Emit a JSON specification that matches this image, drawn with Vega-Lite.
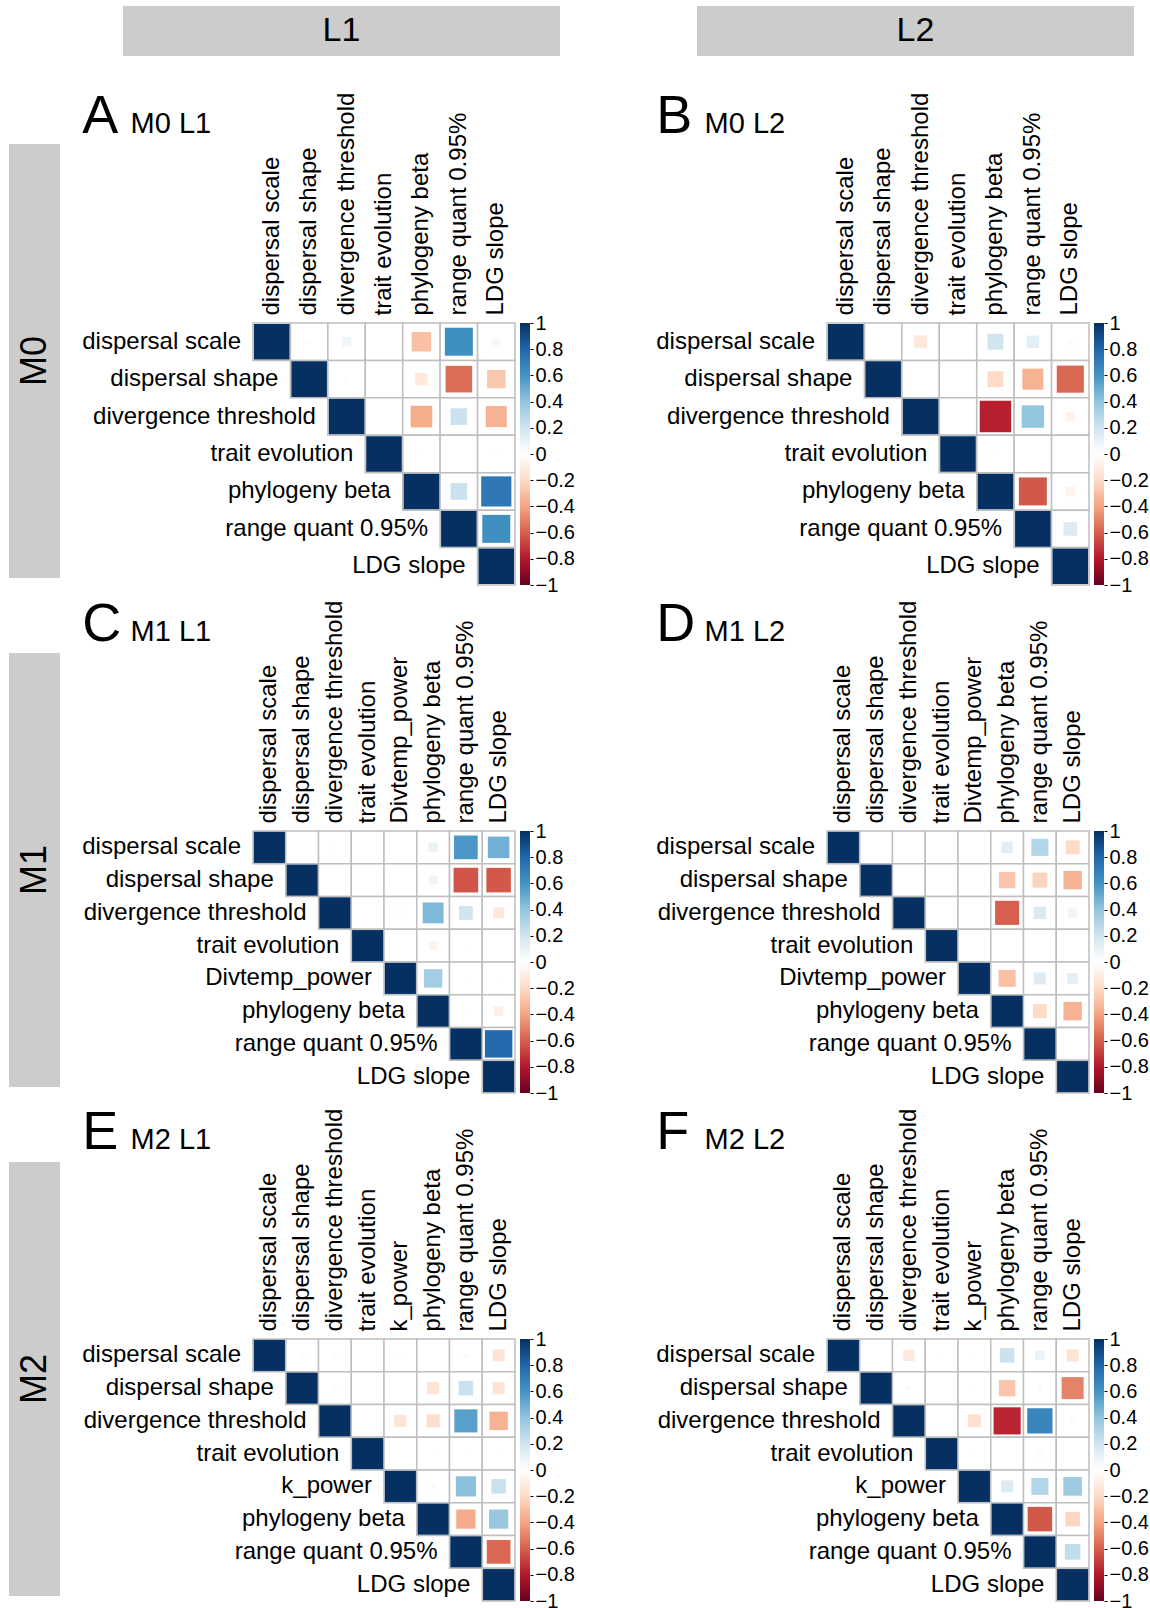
{
  "$schema": "https://vega.github.io/schema/vega-lite/v6.json",
  "background": "white",
  "padding": {"left": 9, "top": 6, "right": 0, "bottom": 0},
  "config": {
    "view": {"stroke": null},
    "font": "Liberation Sans",
    "axis": {"labelFont": "Liberation Sans", "labelColor": "#000"},
    "title": {"font": "Liberation Sans", "color": "#000", "fontWeight": "normal", "subtitleFont": "Liberation Sans", "subtitleColor": "#000"}
  },
  "datasets": {
    "cb": [{"lo": -1, "hi": 1}],
    "n7": [{"v": "dispersal scale"}, {"v": "dispersal shape"}, {"v": "divergence threshold"}, {"v": "trait evolution"}, {"v": "phylogeny beta"}, {"v": "range quant 0.95%"}, {"v": "LDG slope"}],
    "n8a": [{"v": "dispersal scale"}, {"v": "dispersal shape"}, {"v": "divergence threshold"}, {"v": "trait evolution"}, {"v": "Divtemp_power"}, {"v": "phylogeny beta"}, {"v": "range quant 0.95%"}, {"v": "LDG slope"}],
    "n8b": [{"v": "dispersal scale"}, {"v": "dispersal shape"}, {"v": "divergence threshold"}, {"v": "trait evolution"}, {"v": "k_power"}, {"v": "phylogeny beta"}, {"v": "range quant 0.95%"}, {"v": "LDG slope"}],
    "pA": [
      {"a": "dispersal scale", "b": "dispersal scale", "r": 1}, {"a": "dispersal scale", "b": "dispersal shape", "r": 0.02}, {"a": "dispersal scale", "b": "divergence threshold", "r": 0.07}, {"a": "dispersal scale", "b": "trait evolution", "r": 0}, {"a": "dispersal scale", "b": "phylogeny beta", "r": -0.3}, {"a": "dispersal scale", "b": "range quant 0.95%", "r": 0.62}, {"a": "dispersal scale", "b": "LDG slope", "r": 0.05},
      {"a": "dispersal shape", "b": "dispersal shape", "r": 1}, {"a": "dispersal shape", "b": "divergence threshold", "r": -0.02}, {"a": "dispersal shape", "b": "trait evolution", "r": 0}, {"a": "dispersal shape", "b": "phylogeny beta", "r": -0.12}, {"a": "dispersal shape", "b": "range quant 0.95%", "r": -0.56}, {"a": "dispersal shape", "b": "LDG slope", "r": -0.27},
      {"a": "divergence threshold", "b": "divergence threshold", "r": 1}, {"a": "divergence threshold", "b": "trait evolution", "r": 0}, {"a": "divergence threshold", "b": "phylogeny beta", "r": -0.37}, {"a": "divergence threshold", "b": "range quant 0.95%", "r": 0.22}, {"a": "divergence threshold", "b": "LDG slope", "r": -0.35},
      {"a": "trait evolution", "b": "trait evolution", "r": 1}, {"a": "trait evolution", "b": "phylogeny beta", "r": 0.01}, {"a": "trait evolution", "b": "range quant 0.95%", "r": 0}, {"a": "trait evolution", "b": "LDG slope", "r": 0.01},
      {"a": "phylogeny beta", "b": "phylogeny beta", "r": 1}, {"a": "phylogeny beta", "b": "range quant 0.95%", "r": 0.22}, {"a": "phylogeny beta", "b": "LDG slope", "r": 0.72},
      {"a": "range quant 0.95%", "b": "range quant 0.95%", "r": 1}, {"a": "range quant 0.95%", "b": "LDG slope", "r": 0.62},
      {"a": "LDG slope", "b": "LDG slope", "r": 1}
    ],
    "pB": [
      {"a": "dispersal scale", "b": "dispersal scale", "r": 1}, {"a": "dispersal scale", "b": "dispersal shape", "r": 0}, {"a": "dispersal scale", "b": "divergence threshold", "r": -0.13}, {"a": "dispersal scale", "b": "trait evolution", "r": 0}, {"a": "dispersal scale", "b": "phylogeny beta", "r": 0.2}, {"a": "dispersal scale", "b": "range quant 0.95%", "r": 0.12}, {"a": "dispersal scale", "b": "LDG slope", "r": -0.03},
      {"a": "dispersal shape", "b": "dispersal shape", "r": 1}, {"a": "dispersal shape", "b": "divergence threshold", "r": 0}, {"a": "dispersal shape", "b": "trait evolution", "r": 0}, {"a": "dispersal shape", "b": "phylogeny beta", "r": -0.2}, {"a": "dispersal shape", "b": "range quant 0.95%", "r": -0.35}, {"a": "dispersal shape", "b": "LDG slope", "r": -0.58},
      {"a": "divergence threshold", "b": "divergence threshold", "r": 1}, {"a": "divergence threshold", "b": "trait evolution", "r": 0}, {"a": "divergence threshold", "b": "phylogeny beta", "r": -0.78}, {"a": "divergence threshold", "b": "range quant 0.95%", "r": 0.4}, {"a": "divergence threshold", "b": "LDG slope", "r": -0.07},
      {"a": "trait evolution", "b": "trait evolution", "r": 1}, {"a": "trait evolution", "b": "phylogeny beta", "r": 0.01}, {"a": "trait evolution", "b": "range quant 0.95%", "r": 0}, {"a": "trait evolution", "b": "LDG slope", "r": 0},
      {"a": "phylogeny beta", "b": "phylogeny beta", "r": 1}, {"a": "phylogeny beta", "b": "range quant 0.95%", "r": -0.62}, {"a": "phylogeny beta", "b": "LDG slope", "r": -0.07},
      {"a": "range quant 0.95%", "b": "range quant 0.95%", "r": 1}, {"a": "range quant 0.95%", "b": "LDG slope", "r": 0.15},
      {"a": "LDG slope", "b": "LDG slope", "r": 1}
    ],
    "pC": [
      {"a": "dispersal scale", "b": "dispersal scale", "r": 1}, {"a": "dispersal scale", "b": "dispersal shape", "r": 0}, {"a": "dispersal scale", "b": "divergence threshold", "r": 0.01}, {"a": "dispersal scale", "b": "trait evolution", "r": 0}, {"a": "dispersal scale", "b": "Divtemp_power", "r": 0}, {"a": "dispersal scale", "b": "phylogeny beta", "r": 0.09}, {"a": "dispersal scale", "b": "range quant 0.95%", "r": 0.58}, {"a": "dispersal scale", "b": "LDG slope", "r": 0.48},
      {"a": "dispersal shape", "b": "dispersal shape", "r": 1}, {"a": "dispersal shape", "b": "divergence threshold", "r": 0}, {"a": "dispersal shape", "b": "trait evolution", "r": 0}, {"a": "dispersal shape", "b": "Divtemp_power", "r": 0}, {"a": "dispersal shape", "b": "phylogeny beta", "r": 0.08}, {"a": "dispersal shape", "b": "range quant 0.95%", "r": -0.63}, {"a": "dispersal shape", "b": "LDG slope", "r": -0.62},
      {"a": "divergence threshold", "b": "divergence threshold", "r": 1}, {"a": "divergence threshold", "b": "trait evolution", "r": 0}, {"a": "divergence threshold", "b": "Divtemp_power", "r": 0.01}, {"a": "divergence threshold", "b": "phylogeny beta", "r": 0.45}, {"a": "divergence threshold", "b": "range quant 0.95%", "r": 0.2}, {"a": "divergence threshold", "b": "LDG slope", "r": -0.13},
      {"a": "trait evolution", "b": "trait evolution", "r": 1}, {"a": "trait evolution", "b": "Divtemp_power", "r": 0}, {"a": "trait evolution", "b": "phylogeny beta", "r": -0.07}, {"a": "trait evolution", "b": "range quant 0.95%", "r": 0.01}, {"a": "trait evolution", "b": "LDG slope", "r": 0},
      {"a": "Divtemp_power", "b": "Divtemp_power", "r": 1}, {"a": "Divtemp_power", "b": "phylogeny beta", "r": 0.35}, {"a": "Divtemp_power", "b": "range quant 0.95%", "r": 0.01}, {"a": "Divtemp_power", "b": "LDG slope", "r": 0.01},
      {"a": "phylogeny beta", "b": "phylogeny beta", "r": 1}, {"a": "phylogeny beta", "b": "range quant 0.95%", "r": 0.01}, {"a": "phylogeny beta", "b": "LDG slope", "r": -0.09},
      {"a": "range quant 0.95%", "b": "range quant 0.95%", "r": 1}, {"a": "range quant 0.95%", "b": "LDG slope", "r": 0.78},
      {"a": "LDG slope", "b": "LDG slope", "r": 1}
    ],
    "pD": [
      {"a": "dispersal scale", "b": "dispersal scale", "r": 1}, {"a": "dispersal scale", "b": "dispersal shape", "r": 0}, {"a": "dispersal scale", "b": "divergence threshold", "r": 0}, {"a": "dispersal scale", "b": "trait evolution", "r": 0}, {"a": "dispersal scale", "b": "Divtemp_power", "r": 0}, {"a": "dispersal scale", "b": "phylogeny beta", "r": 0.13}, {"a": "dispersal scale", "b": "range quant 0.95%", "r": 0.3}, {"a": "dispersal scale", "b": "LDG slope", "r": -0.2},
      {"a": "dispersal shape", "b": "dispersal shape", "r": 1}, {"a": "dispersal shape", "b": "divergence threshold", "r": 0}, {"a": "dispersal shape", "b": "trait evolution", "r": 0}, {"a": "dispersal shape", "b": "Divtemp_power", "r": 0}, {"a": "dispersal shape", "b": "phylogeny beta", "r": -0.28}, {"a": "dispersal shape", "b": "range quant 0.95%", "r": -0.23}, {"a": "dispersal shape", "b": "LDG slope", "r": -0.35},
      {"a": "divergence threshold", "b": "divergence threshold", "r": 1}, {"a": "divergence threshold", "b": "trait evolution", "r": 0}, {"a": "divergence threshold", "b": "Divtemp_power", "r": 0}, {"a": "divergence threshold", "b": "phylogeny beta", "r": -0.6}, {"a": "divergence threshold", "b": "range quant 0.95%", "r": 0.16}, {"a": "divergence threshold", "b": "LDG slope", "r": 0.08},
      {"a": "trait evolution", "b": "trait evolution", "r": 1}, {"a": "trait evolution", "b": "Divtemp_power", "r": 0}, {"a": "trait evolution", "b": "phylogeny beta", "r": 0}, {"a": "trait evolution", "b": "range quant 0.95%", "r": 0}, {"a": "trait evolution", "b": "LDG slope", "r": 0},
      {"a": "Divtemp_power", "b": "Divtemp_power", "r": 1}, {"a": "Divtemp_power", "b": "phylogeny beta", "r": -0.3}, {"a": "Divtemp_power", "b": "range quant 0.95%", "r": 0.15}, {"a": "Divtemp_power", "b": "LDG slope", "r": 0.12},
      {"a": "phylogeny beta", "b": "phylogeny beta", "r": 1}, {"a": "phylogeny beta", "b": "range quant 0.95%", "r": -0.2}, {"a": "phylogeny beta", "b": "LDG slope", "r": -0.35},
      {"a": "range quant 0.95%", "b": "range quant 0.95%", "r": 1}, {"a": "range quant 0.95%", "b": "LDG slope", "r": 0},
      {"a": "LDG slope", "b": "LDG slope", "r": 1}
    ],
    "pE": [
      {"a": "dispersal scale", "b": "dispersal scale", "r": 1}, {"a": "dispersal scale", "b": "dispersal shape", "r": 0.02}, {"a": "dispersal scale", "b": "divergence threshold", "r": -0.03}, {"a": "dispersal scale", "b": "trait evolution", "r": 0}, {"a": "dispersal scale", "b": "k_power", "r": 0.01}, {"a": "dispersal scale", "b": "phylogeny beta", "r": 0}, {"a": "dispersal scale", "b": "range quant 0.95%", "r": 0.03}, {"a": "dispersal scale", "b": "LDG slope", "r": -0.15},
      {"a": "dispersal shape", "b": "dispersal shape", "r": 1}, {"a": "dispersal shape", "b": "divergence threshold", "r": -0.03}, {"a": "dispersal shape", "b": "trait evolution", "r": 0}, {"a": "dispersal shape", "b": "k_power", "r": 0}, {"a": "dispersal shape", "b": "phylogeny beta", "r": -0.15}, {"a": "dispersal shape", "b": "range quant 0.95%", "r": 0.22}, {"a": "dispersal shape", "b": "LDG slope", "r": -0.15},
      {"a": "divergence threshold", "b": "divergence threshold", "r": 1}, {"a": "divergence threshold", "b": "trait evolution", "r": 0}, {"a": "divergence threshold", "b": "k_power", "r": -0.15}, {"a": "divergence threshold", "b": "phylogeny beta", "r": -0.18}, {"a": "divergence threshold", "b": "range quant 0.95%", "r": 0.55}, {"a": "divergence threshold", "b": "LDG slope", "r": -0.35},
      {"a": "trait evolution", "b": "trait evolution", "r": 1}, {"a": "trait evolution", "b": "k_power", "r": 0}, {"a": "trait evolution", "b": "phylogeny beta", "r": 0.01}, {"a": "trait evolution", "b": "range quant 0.95%", "r": 0.01}, {"a": "trait evolution", "b": "LDG slope", "r": 0.01},
      {"a": "k_power", "b": "k_power", "r": 1}, {"a": "k_power", "b": "phylogeny beta", "r": 0.03}, {"a": "k_power", "b": "range quant 0.95%", "r": 0.42}, {"a": "k_power", "b": "LDG slope", "r": 0.22},
      {"a": "phylogeny beta", "b": "phylogeny beta", "r": 1}, {"a": "phylogeny beta", "b": "range quant 0.95%", "r": -0.38}, {"a": "phylogeny beta", "b": "LDG slope", "r": 0.38},
      {"a": "range quant 0.95%", "b": "range quant 0.95%", "r": 1}, {"a": "range quant 0.95%", "b": "LDG slope", "r": -0.58},
      {"a": "LDG slope", "b": "LDG slope", "r": 1}
    ],
    "pF": [
      {"a": "dispersal scale", "b": "dispersal scale", "r": 1}, {"a": "dispersal scale", "b": "dispersal shape", "r": 0}, {"a": "dispersal scale", "b": "divergence threshold", "r": -0.13}, {"a": "dispersal scale", "b": "trait evolution", "r": 0.01}, {"a": "dispersal scale", "b": "k_power", "r": 0.01}, {"a": "dispersal scale", "b": "phylogeny beta", "r": 0.22}, {"a": "dispersal scale", "b": "range quant 0.95%", "r": 0.09}, {"a": "dispersal scale", "b": "LDG slope", "r": -0.15},
      {"a": "dispersal shape", "b": "dispersal shape", "r": 1}, {"a": "dispersal shape", "b": "divergence threshold", "r": -0.03}, {"a": "dispersal shape", "b": "trait evolution", "r": 0}, {"a": "dispersal shape", "b": "k_power", "r": 0.01}, {"a": "dispersal shape", "b": "phylogeny beta", "r": -0.28}, {"a": "dispersal shape", "b": "range quant 0.95%", "r": 0.04}, {"a": "dispersal shape", "b": "LDG slope", "r": -0.5},
      {"a": "divergence threshold", "b": "divergence threshold", "r": 1}, {"a": "divergence threshold", "b": "trait evolution", "r": 0}, {"a": "divergence threshold", "b": "k_power", "r": -0.17}, {"a": "divergence threshold", "b": "phylogeny beta", "r": -0.76}, {"a": "divergence threshold", "b": "range quant 0.95%", "r": 0.66}, {"a": "divergence threshold", "b": "LDG slope", "r": 0.03},
      {"a": "trait evolution", "b": "trait evolution", "r": 1}, {"a": "trait evolution", "b": "k_power", "r": 0.01}, {"a": "trait evolution", "b": "phylogeny beta", "r": 0}, {"a": "trait evolution", "b": "range quant 0.95%", "r": -0.03}, {"a": "trait evolution", "b": "LDG slope", "r": 0},
      {"a": "k_power", "b": "k_power", "r": 1}, {"a": "k_power", "b": "phylogeny beta", "r": 0.15}, {"a": "k_power", "b": "range quant 0.95%", "r": 0.3}, {"a": "k_power", "b": "LDG slope", "r": 0.36},
      {"a": "phylogeny beta", "b": "phylogeny beta", "r": 1}, {"a": "phylogeny beta", "b": "range quant 0.95%", "r": -0.62}, {"a": "phylogeny beta", "b": "LDG slope", "r": -0.22},
      {"a": "range quant 0.95%", "b": "range quant 0.95%", "r": 1}, {"a": "range quant 0.95%", "b": "LDG slope", "r": 0.25},
      {"a": "LDG slope", "b": "LDG slope", "r": 1}
    ]
  },
  "spacing": 4,
  "resolve": {"scale": {"color": "independent", "size": "independent"}},
  "hconcat": [
    {
      "spacing": 75,
      "vconcat": [
        {"width": 51, "height": 63, "data": {"values": []}, "mark": {"type": "text"}, "encoding": {"text": {"value": ""}}},
        {"width": 51, "height": 434, "view": {"fill": "#cccccc", "stroke": null}, "data": {"values": [{"t": "M0"}]}, "mark": {"type": "text", "angle": 270, "fontSize": 36, "color": "#000"}, "encoding": {"text": {"field": "t"}}},
        {"width": 51, "height": 434, "view": {"fill": "#cccccc", "stroke": null}, "data": {"values": [{"t": "M1"}]}, "mark": {"type": "text", "angle": 270, "fontSize": 36, "color": "#000"}, "encoding": {"text": {"field": "t"}}},
        {"width": 51, "height": 434, "view": {"fill": "#cccccc", "stroke": null}, "data": {"values": [{"t": "M2"}]}, "mark": {"type": "text", "angle": 270, "fontSize": 36, "color": "#000"}, "encoding": {"text": {"field": "t"}}}
      ]
    },
    {
      "spacing": 34,
      "resolve": {"scale": {"color": "independent", "size": "independent"}},
      "vconcat": [
        {
          "spacing": 58,
          "hconcat": [
            {"width": 1, "height": 1, "data": {"values": []}, "mark": {"type": "text"}, "encoding": {"text": {"value": ""}}},
            {
              "spacing": 137,
              "hconcat": [
                {"width": 437, "height": 50, "view": {"fill": "#cccccc", "stroke": null}, "data": {"values": [{"t": "L1"}]}, "mark": {"type": "text", "fontSize": 34, "color": "#000"}, "encoding": {"text": {"field": "t"}}},
                {"width": 437, "height": 50, "view": {"fill": "#cccccc", "stroke": null}, "data": {"values": [{"t": "L2"}]}, "mark": {"type": "text", "fontSize": 34, "color": "#000"}, "encoding": {"text": {"field": "t"}}}
              ]
            }
          ]
        },
        {
          "spacing": 3,
          "resolve": {"scale": {"color": "independent", "size": "independent"}},
          "vconcat": [
            {
              "spacing": 17,
              "resolve": {"scale": {"color": "independent", "size": "independent"}},
              "hconcat": [
                {"width": 1, "height": 1, "data": {"values": []}, "mark": {"type": "text"}, "encoding": {"text": {"value": ""}}},
                {"spacing": 81, "resolve": {"scale": {"color": "independent", "size": "independent"}}, "hconcat": [
                  {"spacing": 4, "resolve": {"scale": {"color": "independent", "size": "independent"}}, "hconcat": [
                  {
                    "width": 262, "height": 262,
                    "title": {"text": "A", "subtitle": "\u200b\u00a0\u00a0\u00a0\u00a0\u00a0\u00a0M0 L1", "fontSize": 54, "subtitleFontSize": 29, "anchor": "start", "frame": "bounds", "offset": -52, "subtitlePadding": -34},
                    "layer": [
                      {"data": {"name": "pA"}, "mark": {"type": "rect", "fill": "#ffffff", "stroke": "#bebebe", "strokeWidth": 1.5},
                       "encoding": {
                         "x": {"field": "b", "type": "nominal", "title": null, "scale": {"type": "band", "domain": ["dispersal scale", "dispersal shape", "divergence threshold", "trait evolution", "phylogeny beta", "range quant 0.95%", "LDG slope"], "paddingInner": 0, "paddingOuter": 0}, "axis": {"orient": "top", "labelAngle": 270, "labelAlign": "left", "labelBaseline": "middle", "labelFontSize": 24, "labelPadding": 8, "ticks": false, "domain": false, "labelLimit": 0}},
                         "y": {"field": "a", "type": "nominal", "title": null, "scale": {"type": "band", "domain": ["dispersal scale", "dispersal shape", "divergence threshold", "trait evolution", "phylogeny beta", "range quant 0.95%", "LDG slope"], "paddingInner": 0, "paddingOuter": 0}, "axis": null}}},
                      {"data": {"name": "pA"}, "mark": {"type": "square", "filled": true, "opacity": 1},
                       "encoding": {
                         "x": {"field": "b", "type": "nominal", "title": null, "scale": {"type": "band", "domain": ["dispersal scale", "dispersal shape", "divergence threshold", "trait evolution", "phylogeny beta", "range quant 0.95%", "LDG slope"], "paddingInner": 0, "paddingOuter": 0}},
                         "y": {"field": "a", "type": "nominal", "title": null, "scale": {"type": "band", "domain": ["dispersal scale", "dispersal shape", "divergence threshold", "trait evolution", "phylogeny beta", "range quant 0.95%", "LDG slope"], "paddingInner": 0, "paddingOuter": 0}, "axis": null},
                         "color": {"field": "r", "type": "quantitative", "scale": {"type": "linear", "interpolate": "rgb", "domain": [-1, -0.8, -0.6, -0.4, -0.2, 0, 0.2, 0.4, 0.6, 0.8, 1], "range": ["#67001F", "#B2182B", "#D6604D", "#F4A582", "#FDDBC7", "#FFFFFF", "#D1E5F0", "#92C5DE", "#4393C3", "#2166AC", "#053061"]}, "legend": null},
                         "size": {"field": "r", "type": "quantitative", "scale": {"type": "linear", "domain": [-1, 0, 1], "range": [1264, 0, 1264]}, "legend": null}}},
                      {"data": {"name": "n7"}, "mark": {"type": "text", "align": "right", "baseline": "middle", "dx": -12, "fontSize": 24, "color": "#000"},
                       "encoding": {
                         "x": {"field": "v", "type": "nominal", "title": null, "bandPosition": 0, "scale": {"type": "band", "domain": ["dispersal scale", "dispersal shape", "divergence threshold", "trait evolution", "phylogeny beta", "range quant 0.95%", "LDG slope"], "paddingInner": 0, "paddingOuter": 0}},
                         "y": {"field": "v", "type": "nominal", "title": null, "scale": {"type": "band", "domain": ["dispersal scale", "dispersal shape", "divergence threshold", "trait evolution", "phylogeny beta", "range quant 0.95%", "LDG slope"], "paddingInner": 0, "paddingOuter": 0}, "axis": null},
                         "text": {"field": "v"}}}
                    ]
                  },
                  {"width": 10, "height": 262, "data": {"name": "cb"},
                   "mark": {"type": "rect", "fill": {"gradient": "linear", "x1": 0, "y1": 1, "x2": 0, "y2": 0, "stops": [{"offset": 0, "color": "#67001F"}, {"offset": 0.1, "color": "#B2182B"}, {"offset": 0.2, "color": "#D6604D"}, {"offset": 0.3, "color": "#F4A582"}, {"offset": 0.4, "color": "#FDDBC7"}, {"offset": 0.5, "color": "#FFFFFF"}, {"offset": 0.6, "color": "#D1E5F0"}, {"offset": 0.7, "color": "#92C5DE"}, {"offset": 0.8, "color": "#4393C3"}, {"offset": 0.9, "color": "#2166AC"}, {"offset": 1, "color": "#053061"}]}},
                   "encoding": {
                     "y": {"field": "lo", "type": "quantitative", "scale": {"domain": [-1, 1], "nice": false, "zero": false}, "axis": {"orient": "right", "title": null, "values": [-1, -0.8, -0.6, -0.4, -0.2, 0, 0.2, 0.4, 0.6, 0.8, 1], "format": "~g", "labelFontSize": 20, "labelPadding": 2, "tickSize": 3, "tickColor": "#000", "domain": false, "grid": false, "labelOverlap": false, "labelFlush": false, "labelBound": false}},
                     "y2": {"field": "hi"}}}
                  ]},
                  {"spacing": 4, "resolve": {"scale": {"color": "independent", "size": "independent"}}, "hconcat": [
                  {
                    "width": 262, "height": 262,
                    "title": {"text": "B", "subtitle": "\u200b\u00a0\u00a0\u00a0\u00a0\u00a0\u00a0M0 L2", "fontSize": 54, "subtitleFontSize": 29, "anchor": "start", "frame": "bounds", "offset": -52, "subtitlePadding": -34},
                    "layer": [
                      {"data": {"name": "pB"}, "mark": {"type": "rect", "fill": "#ffffff", "stroke": "#bebebe", "strokeWidth": 1.5},
                       "encoding": {
                         "x": {"field": "b", "type": "nominal", "title": null, "scale": {"type": "band", "domain": ["dispersal scale", "dispersal shape", "divergence threshold", "trait evolution", "phylogeny beta", "range quant 0.95%", "LDG slope"], "paddingInner": 0, "paddingOuter": 0}, "axis": {"orient": "top", "labelAngle": 270, "labelAlign": "left", "labelBaseline": "middle", "labelFontSize": 24, "labelPadding": 8, "ticks": false, "domain": false, "labelLimit": 0}},
                         "y": {"field": "a", "type": "nominal", "title": null, "scale": {"type": "band", "domain": ["dispersal scale", "dispersal shape", "divergence threshold", "trait evolution", "phylogeny beta", "range quant 0.95%", "LDG slope"], "paddingInner": 0, "paddingOuter": 0}, "axis": null}}},
                      {"data": {"name": "pB"}, "mark": {"type": "square", "filled": true, "opacity": 1},
                       "encoding": {
                         "x": {"field": "b", "type": "nominal", "title": null, "scale": {"type": "band", "domain": ["dispersal scale", "dispersal shape", "divergence threshold", "trait evolution", "phylogeny beta", "range quant 0.95%", "LDG slope"], "paddingInner": 0, "paddingOuter": 0}},
                         "y": {"field": "a", "type": "nominal", "title": null, "scale": {"type": "band", "domain": ["dispersal scale", "dispersal shape", "divergence threshold", "trait evolution", "phylogeny beta", "range quant 0.95%", "LDG slope"], "paddingInner": 0, "paddingOuter": 0}, "axis": null},
                         "color": {"field": "r", "type": "quantitative", "scale": {"type": "linear", "interpolate": "rgb", "domain": [-1, -0.8, -0.6, -0.4, -0.2, 0, 0.2, 0.4, 0.6, 0.8, 1], "range": ["#67001F", "#B2182B", "#D6604D", "#F4A582", "#FDDBC7", "#FFFFFF", "#D1E5F0", "#92C5DE", "#4393C3", "#2166AC", "#053061"]}, "legend": null},
                         "size": {"field": "r", "type": "quantitative", "scale": {"type": "linear", "domain": [-1, 0, 1], "range": [1264, 0, 1264]}, "legend": null}}},
                      {"data": {"name": "n7"}, "mark": {"type": "text", "align": "right", "baseline": "middle", "dx": -12, "fontSize": 24, "color": "#000"},
                       "encoding": {
                         "x": {"field": "v", "type": "nominal", "title": null, "bandPosition": 0, "scale": {"type": "band", "domain": ["dispersal scale", "dispersal shape", "divergence threshold", "trait evolution", "phylogeny beta", "range quant 0.95%", "LDG slope"], "paddingInner": 0, "paddingOuter": 0}},
                         "y": {"field": "v", "type": "nominal", "title": null, "scale": {"type": "band", "domain": ["dispersal scale", "dispersal shape", "divergence threshold", "trait evolution", "phylogeny beta", "range quant 0.95%", "LDG slope"], "paddingInner": 0, "paddingOuter": 0}, "axis": null},
                         "text": {"field": "v"}}}
                    ]
                  },
                  {"width": 10, "height": 262, "data": {"name": "cb"},
                   "mark": {"type": "rect", "fill": {"gradient": "linear", "x1": 0, "y1": 1, "x2": 0, "y2": 0, "stops": [{"offset": 0, "color": "#67001F"}, {"offset": 0.1, "color": "#B2182B"}, {"offset": 0.2, "color": "#D6604D"}, {"offset": 0.3, "color": "#F4A582"}, {"offset": 0.4, "color": "#FDDBC7"}, {"offset": 0.5, "color": "#FFFFFF"}, {"offset": 0.6, "color": "#D1E5F0"}, {"offset": 0.7, "color": "#92C5DE"}, {"offset": 0.8, "color": "#4393C3"}, {"offset": 0.9, "color": "#2166AC"}, {"offset": 1, "color": "#053061"}]}},
                   "encoding": {
                     "y": {"field": "lo", "type": "quantitative", "scale": {"domain": [-1, 1], "nice": false, "zero": false}, "axis": {"orient": "right", "title": null, "values": [-1, -0.8, -0.6, -0.4, -0.2, 0, 0.2, 0.4, 0.6, 0.8, 1], "format": "~g", "labelFontSize": 20, "labelPadding": 2, "tickSize": 3, "tickColor": "#000", "domain": false, "grid": false, "labelOverlap": false, "labelFlush": false, "labelBound": false}},
                     "y2": {"field": "hi"}}}
                  ]}
                ]}
              ]
            },
            {
              "spacing": 17,
              "resolve": {"scale": {"color": "independent", "size": "independent"}},
              "hconcat": [
                {"width": 1, "height": 1, "data": {"values": []}, "mark": {"type": "text"}, "encoding": {"text": {"value": ""}}},
                {"spacing": 81, "resolve": {"scale": {"color": "independent", "size": "independent"}}, "hconcat": [
                  {"spacing": 4, "resolve": {"scale": {"color": "independent", "size": "independent"}}, "hconcat": [
                  {
                    "width": 262, "height": 262,
                    "title": {"text": "C", "subtitle": "\u200b\u00a0\u00a0\u00a0\u00a0\u00a0\u00a0M1 L1", "fontSize": 54, "subtitleFontSize": 29, "anchor": "start", "frame": "bounds", "offset": -52, "subtitlePadding": -34},
                    "layer": [
                      {"data": {"name": "pC"}, "mark": {"type": "rect", "fill": "#ffffff", "stroke": "#bebebe", "strokeWidth": 1.5},
                       "encoding": {
                         "x": {"field": "b", "type": "nominal", "title": null, "scale": {"type": "band", "domain": ["dispersal scale", "dispersal shape", "divergence threshold", "trait evolution", "Divtemp_power", "phylogeny beta", "range quant 0.95%", "LDG slope"], "paddingInner": 0, "paddingOuter": 0}, "axis": {"orient": "top", "labelAngle": 270, "labelAlign": "left", "labelBaseline": "middle", "labelFontSize": 24, "labelPadding": 8, "ticks": false, "domain": false, "labelLimit": 0}},
                         "y": {"field": "a", "type": "nominal", "title": null, "scale": {"type": "band", "domain": ["dispersal scale", "dispersal shape", "divergence threshold", "trait evolution", "Divtemp_power", "phylogeny beta", "range quant 0.95%", "LDG slope"], "paddingInner": 0, "paddingOuter": 0}, "axis": null}}},
                      {"data": {"name": "pC"}, "mark": {"type": "square", "filled": true, "opacity": 1},
                       "encoding": {
                         "x": {"field": "b", "type": "nominal", "title": null, "scale": {"type": "band", "domain": ["dispersal scale", "dispersal shape", "divergence threshold", "trait evolution", "Divtemp_power", "phylogeny beta", "range quant 0.95%", "LDG slope"], "paddingInner": 0, "paddingOuter": 0}},
                         "y": {"field": "a", "type": "nominal", "title": null, "scale": {"type": "band", "domain": ["dispersal scale", "dispersal shape", "divergence threshold", "trait evolution", "Divtemp_power", "phylogeny beta", "range quant 0.95%", "LDG slope"], "paddingInner": 0, "paddingOuter": 0}, "axis": null},
                         "color": {"field": "r", "type": "quantitative", "scale": {"type": "linear", "interpolate": "rgb", "domain": [-1, -0.8, -0.6, -0.4, -0.2, 0, 0.2, 0.4, 0.6, 0.8, 1], "range": ["#67001F", "#B2182B", "#D6604D", "#F4A582", "#FDDBC7", "#FFFFFF", "#D1E5F0", "#92C5DE", "#4393C3", "#2166AC", "#053061"]}, "legend": null},
                         "size": {"field": "r", "type": "quantitative", "scale": {"type": "linear", "domain": [-1, 0, 1], "range": [968, 0, 968]}, "legend": null}}},
                      {"data": {"name": "n8a"}, "mark": {"type": "text", "align": "right", "baseline": "middle", "dx": -12, "fontSize": 24, "color": "#000"},
                       "encoding": {
                         "x": {"field": "v", "type": "nominal", "title": null, "bandPosition": 0, "scale": {"type": "band", "domain": ["dispersal scale", "dispersal shape", "divergence threshold", "trait evolution", "Divtemp_power", "phylogeny beta", "range quant 0.95%", "LDG slope"], "paddingInner": 0, "paddingOuter": 0}},
                         "y": {"field": "v", "type": "nominal", "title": null, "scale": {"type": "band", "domain": ["dispersal scale", "dispersal shape", "divergence threshold", "trait evolution", "Divtemp_power", "phylogeny beta", "range quant 0.95%", "LDG slope"], "paddingInner": 0, "paddingOuter": 0}, "axis": null},
                         "text": {"field": "v"}}}
                    ]
                  },
                  {"width": 10, "height": 262, "data": {"name": "cb"},
                   "mark": {"type": "rect", "fill": {"gradient": "linear", "x1": 0, "y1": 1, "x2": 0, "y2": 0, "stops": [{"offset": 0, "color": "#67001F"}, {"offset": 0.1, "color": "#B2182B"}, {"offset": 0.2, "color": "#D6604D"}, {"offset": 0.3, "color": "#F4A582"}, {"offset": 0.4, "color": "#FDDBC7"}, {"offset": 0.5, "color": "#FFFFFF"}, {"offset": 0.6, "color": "#D1E5F0"}, {"offset": 0.7, "color": "#92C5DE"}, {"offset": 0.8, "color": "#4393C3"}, {"offset": 0.9, "color": "#2166AC"}, {"offset": 1, "color": "#053061"}]}},
                   "encoding": {
                     "y": {"field": "lo", "type": "quantitative", "scale": {"domain": [-1, 1], "nice": false, "zero": false}, "axis": {"orient": "right", "title": null, "values": [-1, -0.8, -0.6, -0.4, -0.2, 0, 0.2, 0.4, 0.6, 0.8, 1], "format": "~g", "labelFontSize": 20, "labelPadding": 2, "tickSize": 3, "tickColor": "#000", "domain": false, "grid": false, "labelOverlap": false, "labelFlush": false, "labelBound": false}},
                     "y2": {"field": "hi"}}}
                  ]},
                  {"spacing": 4, "resolve": {"scale": {"color": "independent", "size": "independent"}}, "hconcat": [
                  {
                    "width": 262, "height": 262,
                    "title": {"text": "D", "subtitle": "\u200b\u00a0\u00a0\u00a0\u00a0\u00a0\u00a0M1 L2", "fontSize": 54, "subtitleFontSize": 29, "anchor": "start", "frame": "bounds", "offset": -52, "subtitlePadding": -34},
                    "layer": [
                      {"data": {"name": "pD"}, "mark": {"type": "rect", "fill": "#ffffff", "stroke": "#bebebe", "strokeWidth": 1.5},
                       "encoding": {
                         "x": {"field": "b", "type": "nominal", "title": null, "scale": {"type": "band", "domain": ["dispersal scale", "dispersal shape", "divergence threshold", "trait evolution", "Divtemp_power", "phylogeny beta", "range quant 0.95%", "LDG slope"], "paddingInner": 0, "paddingOuter": 0}, "axis": {"orient": "top", "labelAngle": 270, "labelAlign": "left", "labelBaseline": "middle", "labelFontSize": 24, "labelPadding": 8, "ticks": false, "domain": false, "labelLimit": 0}},
                         "y": {"field": "a", "type": "nominal", "title": null, "scale": {"type": "band", "domain": ["dispersal scale", "dispersal shape", "divergence threshold", "trait evolution", "Divtemp_power", "phylogeny beta", "range quant 0.95%", "LDG slope"], "paddingInner": 0, "paddingOuter": 0}, "axis": null}}},
                      {"data": {"name": "pD"}, "mark": {"type": "square", "filled": true, "opacity": 1},
                       "encoding": {
                         "x": {"field": "b", "type": "nominal", "title": null, "scale": {"type": "band", "domain": ["dispersal scale", "dispersal shape", "divergence threshold", "trait evolution", "Divtemp_power", "phylogeny beta", "range quant 0.95%", "LDG slope"], "paddingInner": 0, "paddingOuter": 0}},
                         "y": {"field": "a", "type": "nominal", "title": null, "scale": {"type": "band", "domain": ["dispersal scale", "dispersal shape", "divergence threshold", "trait evolution", "Divtemp_power", "phylogeny beta", "range quant 0.95%", "LDG slope"], "paddingInner": 0, "paddingOuter": 0}, "axis": null},
                         "color": {"field": "r", "type": "quantitative", "scale": {"type": "linear", "interpolate": "rgb", "domain": [-1, -0.8, -0.6, -0.4, -0.2, 0, 0.2, 0.4, 0.6, 0.8, 1], "range": ["#67001F", "#B2182B", "#D6604D", "#F4A582", "#FDDBC7", "#FFFFFF", "#D1E5F0", "#92C5DE", "#4393C3", "#2166AC", "#053061"]}, "legend": null},
                         "size": {"field": "r", "type": "quantitative", "scale": {"type": "linear", "domain": [-1, 0, 1], "range": [968, 0, 968]}, "legend": null}}},
                      {"data": {"name": "n8a"}, "mark": {"type": "text", "align": "right", "baseline": "middle", "dx": -12, "fontSize": 24, "color": "#000"},
                       "encoding": {
                         "x": {"field": "v", "type": "nominal", "title": null, "bandPosition": 0, "scale": {"type": "band", "domain": ["dispersal scale", "dispersal shape", "divergence threshold", "trait evolution", "Divtemp_power", "phylogeny beta", "range quant 0.95%", "LDG slope"], "paddingInner": 0, "paddingOuter": 0}},
                         "y": {"field": "v", "type": "nominal", "title": null, "scale": {"type": "band", "domain": ["dispersal scale", "dispersal shape", "divergence threshold", "trait evolution", "Divtemp_power", "phylogeny beta", "range quant 0.95%", "LDG slope"], "paddingInner": 0, "paddingOuter": 0}, "axis": null},
                         "text": {"field": "v"}}}
                    ]
                  },
                  {"width": 10, "height": 262, "data": {"name": "cb"},
                   "mark": {"type": "rect", "fill": {"gradient": "linear", "x1": 0, "y1": 1, "x2": 0, "y2": 0, "stops": [{"offset": 0, "color": "#67001F"}, {"offset": 0.1, "color": "#B2182B"}, {"offset": 0.2, "color": "#D6604D"}, {"offset": 0.3, "color": "#F4A582"}, {"offset": 0.4, "color": "#FDDBC7"}, {"offset": 0.5, "color": "#FFFFFF"}, {"offset": 0.6, "color": "#D1E5F0"}, {"offset": 0.7, "color": "#92C5DE"}, {"offset": 0.8, "color": "#4393C3"}, {"offset": 0.9, "color": "#2166AC"}, {"offset": 1, "color": "#053061"}]}},
                   "encoding": {
                     "y": {"field": "lo", "type": "quantitative", "scale": {"domain": [-1, 1], "nice": false, "zero": false}, "axis": {"orient": "right", "title": null, "values": [-1, -0.8, -0.6, -0.4, -0.2, 0, 0.2, 0.4, 0.6, 0.8, 1], "format": "~g", "labelFontSize": 20, "labelPadding": 2, "tickSize": 3, "tickColor": "#000", "domain": false, "grid": false, "labelOverlap": false, "labelFlush": false, "labelBound": false}},
                     "y2": {"field": "hi"}}}
                  ]}
                ]}
              ]
            },
            {
              "spacing": 17,
              "resolve": {"scale": {"color": "independent", "size": "independent"}},
              "hconcat": [
                {"width": 1, "height": 1, "data": {"values": []}, "mark": {"type": "text"}, "encoding": {"text": {"value": ""}}},
                {"spacing": 81, "resolve": {"scale": {"color": "independent", "size": "independent"}}, "hconcat": [
                  {"spacing": 4, "resolve": {"scale": {"color": "independent", "size": "independent"}}, "hconcat": [
                  {
                    "width": 262, "height": 262,
                    "title": {"text": "E", "subtitle": "\u200b\u00a0\u00a0\u00a0\u00a0\u00a0\u00a0M2 L1", "fontSize": 54, "subtitleFontSize": 29, "anchor": "start", "frame": "bounds", "offset": -52, "subtitlePadding": -34},
                    "layer": [
                      {"data": {"name": "pE"}, "mark": {"type": "rect", "fill": "#ffffff", "stroke": "#bebebe", "strokeWidth": 1.5},
                       "encoding": {
                         "x": {"field": "b", "type": "nominal", "title": null, "scale": {"type": "band", "domain": ["dispersal scale", "dispersal shape", "divergence threshold", "trait evolution", "k_power", "phylogeny beta", "range quant 0.95%", "LDG slope"], "paddingInner": 0, "paddingOuter": 0}, "axis": {"orient": "top", "labelAngle": 270, "labelAlign": "left", "labelBaseline": "middle", "labelFontSize": 24, "labelPadding": 8, "ticks": false, "domain": false, "labelLimit": 0}},
                         "y": {"field": "a", "type": "nominal", "title": null, "scale": {"type": "band", "domain": ["dispersal scale", "dispersal shape", "divergence threshold", "trait evolution", "k_power", "phylogeny beta", "range quant 0.95%", "LDG slope"], "paddingInner": 0, "paddingOuter": 0}, "axis": null}}},
                      {"data": {"name": "pE"}, "mark": {"type": "square", "filled": true, "opacity": 1},
                       "encoding": {
                         "x": {"field": "b", "type": "nominal", "title": null, "scale": {"type": "band", "domain": ["dispersal scale", "dispersal shape", "divergence threshold", "trait evolution", "k_power", "phylogeny beta", "range quant 0.95%", "LDG slope"], "paddingInner": 0, "paddingOuter": 0}},
                         "y": {"field": "a", "type": "nominal", "title": null, "scale": {"type": "band", "domain": ["dispersal scale", "dispersal shape", "divergence threshold", "trait evolution", "k_power", "phylogeny beta", "range quant 0.95%", "LDG slope"], "paddingInner": 0, "paddingOuter": 0}, "axis": null},
                         "color": {"field": "r", "type": "quantitative", "scale": {"type": "linear", "interpolate": "rgb", "domain": [-1, -0.8, -0.6, -0.4, -0.2, 0, 0.2, 0.4, 0.6, 0.8, 1], "range": ["#67001F", "#B2182B", "#D6604D", "#F4A582", "#FDDBC7", "#FFFFFF", "#D1E5F0", "#92C5DE", "#4393C3", "#2166AC", "#053061"]}, "legend": null},
                         "size": {"field": "r", "type": "quantitative", "scale": {"type": "linear", "domain": [-1, 0, 1], "range": [968, 0, 968]}, "legend": null}}},
                      {"data": {"name": "n8b"}, "mark": {"type": "text", "align": "right", "baseline": "middle", "dx": -12, "fontSize": 24, "color": "#000"},
                       "encoding": {
                         "x": {"field": "v", "type": "nominal", "title": null, "bandPosition": 0, "scale": {"type": "band", "domain": ["dispersal scale", "dispersal shape", "divergence threshold", "trait evolution", "k_power", "phylogeny beta", "range quant 0.95%", "LDG slope"], "paddingInner": 0, "paddingOuter": 0}},
                         "y": {"field": "v", "type": "nominal", "title": null, "scale": {"type": "band", "domain": ["dispersal scale", "dispersal shape", "divergence threshold", "trait evolution", "k_power", "phylogeny beta", "range quant 0.95%", "LDG slope"], "paddingInner": 0, "paddingOuter": 0}, "axis": null},
                         "text": {"field": "v"}}}
                    ]
                  },
                  {"width": 10, "height": 262, "data": {"name": "cb"},
                   "mark": {"type": "rect", "fill": {"gradient": "linear", "x1": 0, "y1": 1, "x2": 0, "y2": 0, "stops": [{"offset": 0, "color": "#67001F"}, {"offset": 0.1, "color": "#B2182B"}, {"offset": 0.2, "color": "#D6604D"}, {"offset": 0.3, "color": "#F4A582"}, {"offset": 0.4, "color": "#FDDBC7"}, {"offset": 0.5, "color": "#FFFFFF"}, {"offset": 0.6, "color": "#D1E5F0"}, {"offset": 0.7, "color": "#92C5DE"}, {"offset": 0.8, "color": "#4393C3"}, {"offset": 0.9, "color": "#2166AC"}, {"offset": 1, "color": "#053061"}]}},
                   "encoding": {
                     "y": {"field": "lo", "type": "quantitative", "scale": {"domain": [-1, 1], "nice": false, "zero": false}, "axis": {"orient": "right", "title": null, "values": [-1, -0.8, -0.6, -0.4, -0.2, 0, 0.2, 0.4, 0.6, 0.8, 1], "format": "~g", "labelFontSize": 20, "labelPadding": 2, "tickSize": 3, "tickColor": "#000", "domain": false, "grid": false, "labelOverlap": false, "labelFlush": false, "labelBound": false}},
                     "y2": {"field": "hi"}}}
                  ]},
                  {"spacing": 4, "resolve": {"scale": {"color": "independent", "size": "independent"}}, "hconcat": [
                  {
                    "width": 262, "height": 262,
                    "title": {"text": "F", "subtitle": "\u200b\u00a0\u00a0\u00a0\u00a0\u00a0\u00a0M2 L2", "fontSize": 54, "subtitleFontSize": 29, "anchor": "start", "frame": "bounds", "offset": -52, "subtitlePadding": -34},
                    "layer": [
                      {"data": {"name": "pF"}, "mark": {"type": "rect", "fill": "#ffffff", "stroke": "#bebebe", "strokeWidth": 1.5},
                       "encoding": {
                         "x": {"field": "b", "type": "nominal", "title": null, "scale": {"type": "band", "domain": ["dispersal scale", "dispersal shape", "divergence threshold", "trait evolution", "k_power", "phylogeny beta", "range quant 0.95%", "LDG slope"], "paddingInner": 0, "paddingOuter": 0}, "axis": {"orient": "top", "labelAngle": 270, "labelAlign": "left", "labelBaseline": "middle", "labelFontSize": 24, "labelPadding": 8, "ticks": false, "domain": false, "labelLimit": 0}},
                         "y": {"field": "a", "type": "nominal", "title": null, "scale": {"type": "band", "domain": ["dispersal scale", "dispersal shape", "divergence threshold", "trait evolution", "k_power", "phylogeny beta", "range quant 0.95%", "LDG slope"], "paddingInner": 0, "paddingOuter": 0}, "axis": null}}},
                      {"data": {"name": "pF"}, "mark": {"type": "square", "filled": true, "opacity": 1},
                       "encoding": {
                         "x": {"field": "b", "type": "nominal", "title": null, "scale": {"type": "band", "domain": ["dispersal scale", "dispersal shape", "divergence threshold", "trait evolution", "k_power", "phylogeny beta", "range quant 0.95%", "LDG slope"], "paddingInner": 0, "paddingOuter": 0}},
                         "y": {"field": "a", "type": "nominal", "title": null, "scale": {"type": "band", "domain": ["dispersal scale", "dispersal shape", "divergence threshold", "trait evolution", "k_power", "phylogeny beta", "range quant 0.95%", "LDG slope"], "paddingInner": 0, "paddingOuter": 0}, "axis": null},
                         "color": {"field": "r", "type": "quantitative", "scale": {"type": "linear", "interpolate": "rgb", "domain": [-1, -0.8, -0.6, -0.4, -0.2, 0, 0.2, 0.4, 0.6, 0.8, 1], "range": ["#67001F", "#B2182B", "#D6604D", "#F4A582", "#FDDBC7", "#FFFFFF", "#D1E5F0", "#92C5DE", "#4393C3", "#2166AC", "#053061"]}, "legend": null},
                         "size": {"field": "r", "type": "quantitative", "scale": {"type": "linear", "domain": [-1, 0, 1], "range": [968, 0, 968]}, "legend": null}}},
                      {"data": {"name": "n8b"}, "mark": {"type": "text", "align": "right", "baseline": "middle", "dx": -12, "fontSize": 24, "color": "#000"},
                       "encoding": {
                         "x": {"field": "v", "type": "nominal", "title": null, "bandPosition": 0, "scale": {"type": "band", "domain": ["dispersal scale", "dispersal shape", "divergence threshold", "trait evolution", "k_power", "phylogeny beta", "range quant 0.95%", "LDG slope"], "paddingInner": 0, "paddingOuter": 0}},
                         "y": {"field": "v", "type": "nominal", "title": null, "scale": {"type": "band", "domain": ["dispersal scale", "dispersal shape", "divergence threshold", "trait evolution", "k_power", "phylogeny beta", "range quant 0.95%", "LDG slope"], "paddingInner": 0, "paddingOuter": 0}, "axis": null},
                         "text": {"field": "v"}}}
                    ]
                  },
                  {"width": 10, "height": 262, "data": {"name": "cb"},
                   "mark": {"type": "rect", "fill": {"gradient": "linear", "x1": 0, "y1": 1, "x2": 0, "y2": 0, "stops": [{"offset": 0, "color": "#67001F"}, {"offset": 0.1, "color": "#B2182B"}, {"offset": 0.2, "color": "#D6604D"}, {"offset": 0.3, "color": "#F4A582"}, {"offset": 0.4, "color": "#FDDBC7"}, {"offset": 0.5, "color": "#FFFFFF"}, {"offset": 0.6, "color": "#D1E5F0"}, {"offset": 0.7, "color": "#92C5DE"}, {"offset": 0.8, "color": "#4393C3"}, {"offset": 0.9, "color": "#2166AC"}, {"offset": 1, "color": "#053061"}]}},
                   "encoding": {
                     "y": {"field": "lo", "type": "quantitative", "scale": {"domain": [-1, 1], "nice": false, "zero": false}, "axis": {"orient": "right", "title": null, "values": [-1, -0.8, -0.6, -0.4, -0.2, 0, 0.2, 0.4, 0.6, 0.8, 1], "format": "~g", "labelFontSize": 20, "labelPadding": 2, "tickSize": 3, "tickColor": "#000", "domain": false, "grid": false, "labelOverlap": false, "labelFlush": false, "labelBound": false}},
                     "y2": {"field": "hi"}}}
                  ]}
                ]}
              ]
            }
          ]
        }
      ]
    }
  ]
}
